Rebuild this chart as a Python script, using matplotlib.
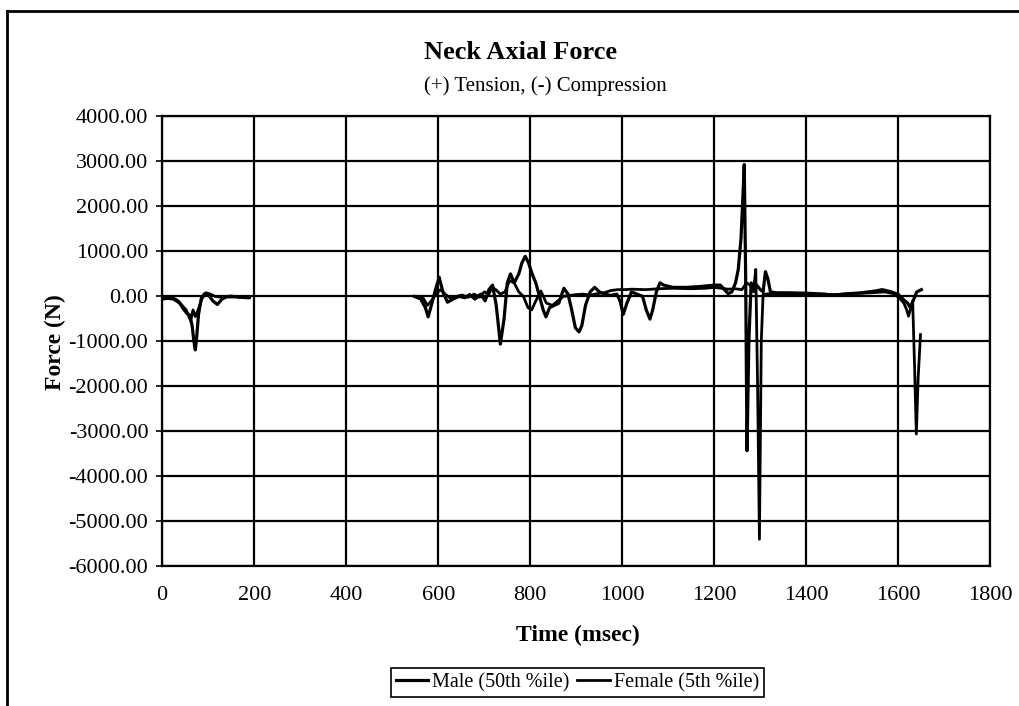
import numpy as np
import matplotlib
matplotlib.use("Agg")
import matplotlib.pyplot as plt
from matplotlib.lines import Line2D

plt.rcParams['font.family'] = ['Liberation Serif', 'DejaVu Serif']

nan = np.nan

# Male (50th %ile) - time (msec) and axial force (N)
male_t = [0, 10, 25, 38, 46, 54, 60, 65, 69, 72, 75, 79, 85, 92, 100, 110, 120, 130, 140, 160, 185,
          nan,
          548, 562, 572, 578, 585, 594, 602, 610, 620, 632, 645, 658, 668, 680, 692, 702, 710, 718, 726,
          735, 743, 750, 757, 765, 775, 782, 789, 796, 804, 812, 820, 828, 834, 842, 852, 862, 873, 882,
          890, 898, 906, 912, 920, 930, 940, 950, 962, 975, 988, 995, 1002, 1010, 1020, 1032, 1044, 1052,
          1060, 1066, 1074, 1082, 1090, 1110, 1140, 1170, 1200, 1213, 1222, 1230, 1238, 1246, 1252, 1258,
          1262, 1265, 1268, 1271, 1275, 1280, 1285, 1292, 1300, 1306, 1311, 1316, 1322, 1335,
          1360, 1400, 1440, 1460, 1480, 1520, 1550, 1565, 1585, 1600, 1612, 1620, 1626, 1632, 1640, 1650]
male_f = [-40, -40, -60, -150, -280, -380, -420, -650, -1000, -1190, -900, -400, -50, 60, 40, -100, -180, -60, -10, -10, -30,
          nan,
          0, -60, -250, -455, -200, 150, 425, 100, -130, -60, 0, -30, 40, -60, 50, -100, 150, 250, -200,
          -1060, -500, 300, 500, 300, 500, 750, 890, 750, 500, 300, 0, -300, -455, -250, -200, -150, 180, 50,
          -300, -700, -790, -650, -200, 100, 200, 100, 50, 20, 50, -100, -400, -150, 100, 50, 0, -300,
          -505, -300, 100, 300, 250, 200, 200, 220, 250, 250, 150, 60, 100, 300, 600, 1300,
          2200, 2930, 500, -3430, -1000, 300, 200, 250, 150, 100, 550, 400, 100, 80,
          80, 70, 50, 20, 50, 80, 120, 150, 100, 40, -80, -150, -250, -100, 100, 150]

# Female (5th %ile)
female_t = [0, 12, 25, 35, 45, 52, 58, 62, 67, 72, 78, 86, 95, 105, 115, 130, 150, 170, 190,
            nan,
            555, 568, 576, 585, 595, 605, 615, 628, 640, 652, 665, 678, 690, 700, 710, 717, 725, 735, 745,
            755, 765, 775, 785, 795, 803, 812, 823, 835, 848, 860, 872, 885, 900, 915, 930, 945, 960, 975,
            990, 1005, 1020, 1050, 1080, 1110, 1150, 1180, 1200, 1215, 1230, 1245, 1260, 1270, 1278, 1285,
            1290, 1294, 1298, 1302, 1306, 1312, 1320, 1335,
            1380, 1420, 1460, 1500, 1540, 1570, 1590, 1603, 1612, 1618, 1622, 1627, 1631, 1635, 1639, 1643, 1648]
female_f = [-60, -50, -40, -100, -220, -300, -450, -540, -300, -450, -300, -60, 80, 50, 0, -20, 10, -20, -30,
            nan,
            0, -50, -200, -100, 50, 150, 50, -50, 0, 30, -20, 50, -20, 100, 50, 200, 150, 50, 100,
            350, 300, 100, 0, -250, -300, -100, 120, -150, -200, -100, 0, 20, 40, 50, 30, 60, 80, 130,
            150, 150, 160, 150, 170, 180, 170, 180, 200, 180, 160, 170, 150, 300, 250, 100,
            600, -2000, -5400, -1000, 50, 50, 60, 60,
            60, 50, 40, 60, 80, 100, 60, -45, -150, -300, -440, -250, -100, -1500, -3060, -1800, -850]

x_ticks = [0, 200, 400, 600, 800, 1000, 1200, 1400, 1600, 1800]
y_ticks = [4000, 3000, 2000, 1000, 0, -1000, -2000, -3000, -4000, -5000, -6000]

fig = plt.figure(figsize=(10.2, 7.06), dpi=100)
ax = fig.add_axes([0.159, 0.198, 0.812, 0.637])

ax.plot(male_t, male_f, color='black', lw=2.3, label='Male (50th %ile)')
ax.plot(female_t, female_f, color='black', lw=2.0, label='Female (5th %ile)')

ax.set_xlim(0, 1800)
ax.set_ylim(-6000, 4000)
ax.set_xticks(x_ticks)
ax.set_yticks(y_ticks)
ax.set_yticklabels(['%.2f' % v for v in y_ticks])
ax.grid(True, color='black', lw=1.6)
ax.set_axisbelow(True)
for s in ax.spines.values():
    s.set_linewidth(1.6)
ax.tick_params(axis='x', labelsize=16, pad=14, length=0)
ax.tick_params(axis='y', labelsize=16, pad=6, length=4, width=1.2)

fig.text(0.51, 0.925, 'Neck Axial Force', ha='center', va='center', fontsize=19, fontweight='bold')
fig.text(0.535, 0.878, '(+) Tension, (-) Compression', ha='center', va='center', fontsize=15)
fig.text(0.567, 0.10, 'Time (msec)', ha='center', va='center', fontsize=17, fontweight='bold')
fig.text(0.054, 0.516, 'Force (N)', ha='center', va='center', fontsize=17, fontweight='bold', rotation=90)

leg = fig.legend(loc='center', bbox_to_anchor=(0.566, 0.033), ncol=2, fontsize=14.5,
                 handlelength=1.6, handletextpad=0.2, columnspacing=0.4,
                 borderpad=0.25, fancybox=False, edgecolor='black', framealpha=1)
leg.get_frame().set_linewidth(1.2)

# outer chart border
fig.add_artist(Line2D([7 / 1020, 7 / 1020], [0, 1 - 11 / 706], color='black', lw=2, transform=fig.transFigure))
fig.add_artist(Line2D([7 / 1020, 1], [1 - 11 / 706, 1 - 11 / 706], color='black', lw=2, transform=fig.transFigure))

fig.savefig('out.png', dpi=100)
